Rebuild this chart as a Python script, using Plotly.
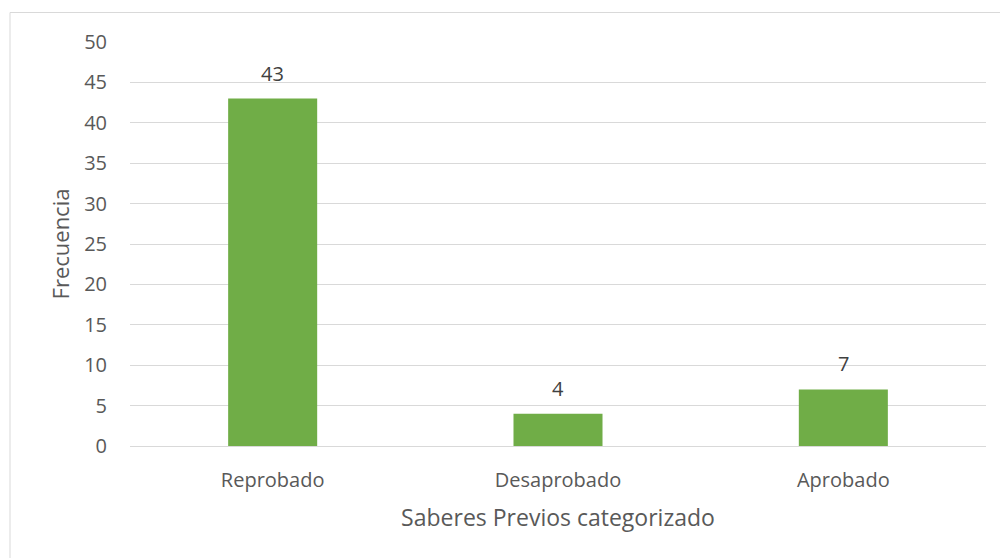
import plotly.graph_objects as go

categorias = ["Reprobado", "Desaprobado", "Aprobado"]
frecuencias = [43, 4, 7]
y_ticks = [0, 5, 10, 15, 20, 25, 30, 35, 40, 45, 50]

FONT = "Open Sans"
fig = go.Figure(go.Bar(
    x=categorias, y=frecuencias,
    marker=dict(color="#70ad47", line=dict(width=0)),
))

for c, v in zip(categorias, frecuencias):
    fig.add_annotation(x=c, y=v, text=str(v), showarrow=False, yanchor="bottom",
                       yshift=10, font=dict(family=FONT, size=20, color="#404040"))

L, R, T, B = 130, 14, 42, 112
W, H = 1000, 558
pw, ph = W - L - R, H - T - B

fig.update_layout(
    width=W, height=H,
    margin=dict(l=L, r=R, t=T, b=B, pad=0),
    paper_bgcolor="white", plot_bgcolor="white",
    bargap=0.688, showlegend=False,
    font=dict(family=FONT, color="#595959"),
    xaxis=dict(
        showgrid=False, showline=True, linecolor="#d9d9d9", linewidth=1,
        tickfont=dict(size=20, color="#595959"), ticks="", ticklabelstandoff=16,
        title=dict(text="Saberes Previos categorizado", font=dict(size=23, color="#595959"), standoff=17),
    ),
    yaxis=dict(
        range=[0, 50], tickvals=y_ticks, showgrid=True, gridcolor="#d9d9d9", gridwidth=1,
        zeroline=False, showline=False,
        tickfont=dict(size=20, color="#595959"), ticks="", ticklabelstandoff=22,
        title=dict(text="Frecuencia", font=dict(size=22, color="#595959"), standoff=8),
    ),
    shapes=[dict(type="rect", xref="paper", yref="paper",
                 x0=(10 - L) / pw, x1=(1020 - L) / pw,
                 y0=-(H + 20 - (H - B)) / ph, y1=(H - B - 12.5) / ph,
                 line=dict(color="#d9d9d9", width=1), fillcolor="rgba(0,0,0,0)", layer="below")],
)
fig.write_html("out.html")
